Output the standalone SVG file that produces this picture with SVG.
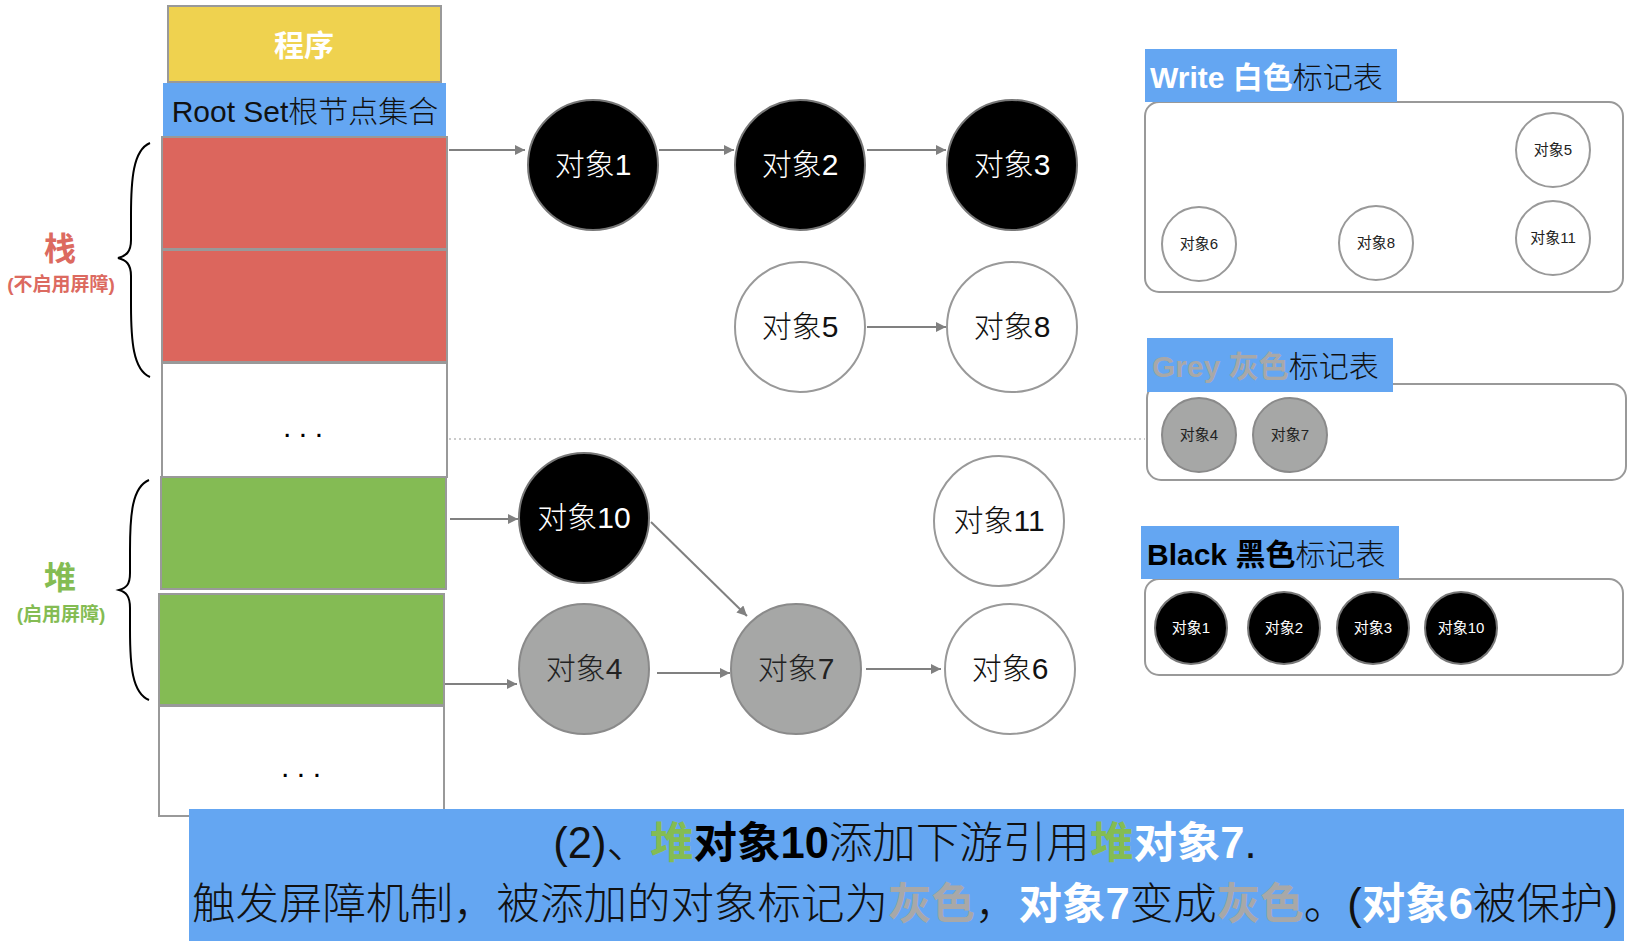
<svg xmlns="http://www.w3.org/2000/svg" width="1646" height="948" viewBox="0 0 1646 948">
<defs>
<marker id="ah" viewBox="0 0 10 10" refX="10" refY="5" markerWidth="5" markerHeight="5" orient="auto" markerUnits="strokeWidth">
<path d="M0,0 L10,5 L0,10 Z" fill="#808080"/>
</marker>
<style>
text{font-family:"Liberation Sans","Noto Sans CJK SC",sans-serif;}
.cell{stroke:#999;stroke-width:2;}
.conn{stroke:#808080;stroke-width:2;fill:none;marker-end:url(#ah);}
.big{font-size:30px;text-anchor:middle;font-weight:300;}
.small{font-size:15px;text-anchor:middle;}
.blk{fill:#000;stroke:#777;stroke-width:2;}
.wht{fill:#fff;stroke:#999;stroke-width:2;}
.gry{fill:#a6a7a6;stroke:#8a8a8a;stroke-width:2;}
.panel{fill:#fff;stroke:#999;stroke-width:2;}
.lab{fill:#64a6f2;}
.b{font-weight:bold;}
</style>
</defs>
<rect width="1646" height="948" fill="#fff"/>

<g id="program">
<rect x="168" y="6" width="273" height="76" fill="#efd24f" class="cell"/>
<text x="304" y="56" font-size="30" font-weight="bold" fill="#fff" text-anchor="middle">程序</text>
</g>
<g id="rootset">
<rect x="163" y="83" width="283" height="54" fill="#64a6f2"/>
<text x="305" y="122" font-size="30" fill="#111" text-anchor="middle" font-weight="300">Root Set根节点集合</text>
</g>
<g id="stack-cells">
<rect x="162" y="137" width="285" height="112" fill="#dc665d" class="cell"/>
<rect x="162" y="250" width="285" height="112" fill="#dc665d" class="cell"/>
<rect x="162" y="363" width="285" height="114" fill="#fff" class="cell"/>
<text x="283" y="437" font-size="30" letter-spacing="7.5" fill="#000">...</text>
</g>
<g id="heap-cells">
<rect x="161" y="477" width="285" height="112" fill="#84bb54" class="cell"/>
<rect x="159" y="594" width="285" height="111" fill="#84bb54" class="cell"/>
<rect x="159" y="706" width="285" height="110" fill="#fff" class="cell"/>
<text x="281" y="777" font-size="30" letter-spacing="7.5" fill="#000">...</text>
</g>

<g id="stack-label">
<path d="M150,143 C133,150 131,180 131,215 L131,240 C131,252 126,256 118,258 C126,260 131,264 131,276 L131,305 C131,340 133,370 150,377" fill="none" stroke="#000" stroke-width="2"/>
<text x="60" y="260" font-size="32" font-weight="bold" fill="#dc6a60" text-anchor="middle">栈</text>
<text x="61" y="291" font-size="19" font-weight="bold" fill="#dc6a60" text-anchor="middle">(不启用屏障)</text>
</g>
<g id="heap-label">
<path d="M149,480 C132,487 130,515 130,550 L130,573 C130,585 126,588 119,590 C126,592 130,596 130,608 L130,630 C130,665 132,693 149,700" fill="none" stroke="#000" stroke-width="2"/>
<text x="60" y="589" font-size="32" font-weight="bold" fill="#84bc53" text-anchor="middle">堆</text>
<text x="61" y="621" font-size="19" font-weight="bold" fill="#84bc53" text-anchor="middle">(启用屏障)</text>
</g>

<g id="connectors">
<line x1="449" y1="439" x2="1145" y2="439" stroke="#bbb" stroke-width="1.5" stroke-dasharray="2,3"/>
<line class="conn" x1="449" y1="150" x2="525" y2="150"/>
<line class="conn" x1="659" y1="150" x2="734" y2="150"/>
<line class="conn" x1="867" y1="150" x2="946" y2="150"/>
<line class="conn" x1="867" y1="327" x2="946" y2="327"/>
<line class="conn" x1="450" y1="519" x2="518" y2="519"/>
<line class="conn" x1="651" y1="522" x2="747" y2="616"/>
<line class="conn" x1="445" y1="684" x2="517" y2="684"/>
<line class="conn" x1="657" y1="673" x2="730" y2="673"/>
<line class="conn" x1="866" y1="669" x2="941" y2="669"/>
</g>

<g id="obj1"><circle cx="593" cy="165" r="65" class="blk"/><text x="593" y="175" class="big" fill="#fff">对象1</text></g>
<g id="obj2"><circle cx="800" cy="165" r="65" class="blk"/><text x="800" y="175" class="big" fill="#fff">对象2</text></g>
<g id="obj3"><circle cx="1012" cy="165" r="65" class="blk"/><text x="1012" y="175" class="big" fill="#fff">对象3</text></g>
<g id="obj5"><circle cx="800" cy="327" r="65" class="wht"/><text x="800" y="337" class="big" fill="#111">对象5</text></g>
<g id="obj8"><circle cx="1012" cy="327" r="65" class="wht"/><text x="1012" y="337" class="big" fill="#111">对象8</text></g>
<g id="obj10"><circle cx="584" cy="518" r="65" class="blk"/><text x="584" y="528" class="big" fill="#fff">对象10</text></g>
<g id="obj11"><circle cx="999" cy="521" r="65" class="wht"/><text x="999" y="531" class="big" fill="#111">对象11</text></g>
<g id="obj4"><circle cx="584" cy="669" r="65" class="gry"/><text x="584" y="679" class="big" fill="#222">对象4</text></g>
<g id="obj7"><circle cx="796" cy="669" r="65" class="gry"/><text x="796" y="679" class="big" fill="#222">对象7</text></g>
<g id="obj6"><circle cx="1010" cy="669" r="65" class="wht"/><text x="1010" y="679" class="big" fill="#111">对象6</text></g>

<g id="white-table">
<rect x="1145" y="102" width="478" height="190" rx="14" class="panel"/>
<rect x="1145" y="49" width="252" height="53" class="lab"/>
<text x="1150" y="88" font-size="30"><tspan class="b" fill="#fff">Write 白色</tspan><tspan fill="#111" font-weight="300">标记表</tspan></text>
<circle cx="1553" cy="150" r="37" class="wht"/><text x="1553" y="155" class="small" fill="#222">对象5</text>
<circle cx="1199" cy="244" r="37" class="wht"/><text x="1199" y="249" class="small" fill="#222">对象6</text>
<circle cx="1376" cy="243" r="37" class="wht"/><text x="1376" y="248" class="small" fill="#222">对象8</text>
<circle cx="1553" cy="238" r="37" class="wht"/><text x="1553" y="243" class="small" fill="#222">对象11</text>
</g>
<g id="grey-table">
<rect x="1147" y="384" width="479" height="96" rx="14" class="panel"/>
<rect x="1147" y="338" width="246" height="54" class="lab"/>
<text x="1152" y="377" font-size="30"><tspan class="b" fill="#a8a8a8">Grey 灰色</tspan><tspan fill="#111" font-weight="300">标记表</tspan></text>
<circle cx="1199" cy="435" r="37" class="gry"/><text x="1199" y="440" class="small" fill="#222">对象4</text>
<circle cx="1290" cy="435" r="37" class="gry"/><text x="1290" y="440" class="small" fill="#222">对象7</text>
</g>
<g id="black-table">
<rect x="1145" y="579" width="478" height="96" rx="14" class="panel"/>
<rect x="1141" y="526" width="258" height="53" class="lab"/>
<text x="1147" y="565" font-size="30"><tspan class="b" fill="#000">Black 黑色</tspan><tspan fill="#111" font-weight="300">标记表</tspan></text>
<circle cx="1191" cy="628" r="36" class="blk"/><text x="1191" y="633" class="small" fill="#fff">对象1</text>
<circle cx="1284" cy="628" r="36" class="blk"/><text x="1284" y="633" class="small" fill="#fff">对象2</text>
<circle cx="1373" cy="628" r="36" class="blk"/><text x="1373" y="633" class="small" fill="#fff">对象3</text>
<circle cx="1461" cy="628" r="36" class="blk"/><text x="1461" y="633" class="small" fill="#fff">对象10</text>
</g>

<g id="caption">
<rect x="189" y="809" width="1435" height="132" fill="#64a6f2"/>
<text x="905" y="858" font-size="43.5" text-anchor="middle" fill="#111" font-weight="300">(2)、<tspan class="b" fill="#84bc53">堆</tspan><tspan class="b" fill="#000">对象10</tspan>添加下游引用<tspan class="b" fill="#84bc53">堆</tspan><tspan class="b" fill="#fff">对象7</tspan>.</text>
<text x="905" y="919" font-size="43.5" text-anchor="middle" fill="#111" font-weight="300">触发屏障机制，被添加的对象标记为<tspan class="b" fill="#a8a8a8">灰色</tspan>，<tspan class="b" fill="#fff">对象7</tspan>变成<tspan class="b" fill="#a8a8a8">灰色</tspan>。(<tspan class="b" fill="#fff">对象6</tspan>被保护)</text>
</g>
</svg>
